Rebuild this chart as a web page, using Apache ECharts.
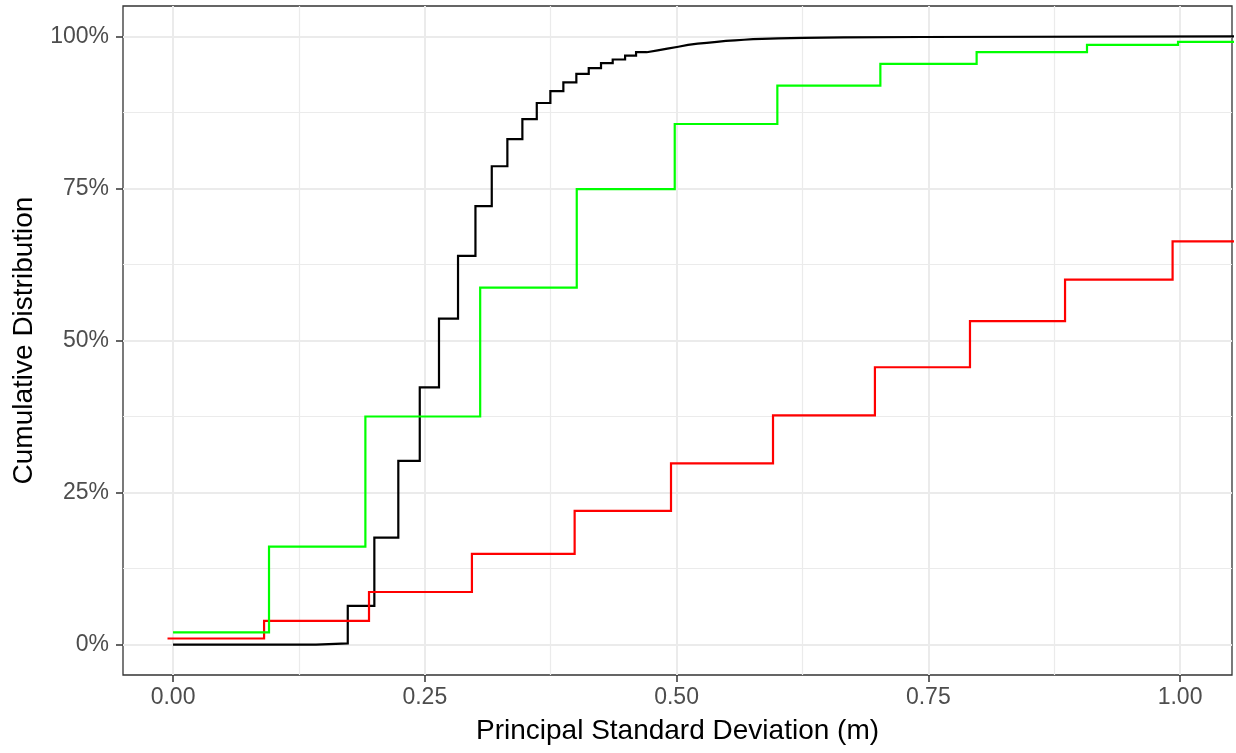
<!DOCTYPE html>
<html>
<head>
<meta charset="utf-8">
<script src="https://cdn.jsdelivr.net/npm/echarts@6/dist/echarts.min.js"></script>
<style>
html,body{margin:0;padding:0;background:#fff;}
#chart{width:1236px;height:753px;}
</style>
</head>
<body>
<div id="chart"></div>
<script>
// Step (ECDF) series: x where each step starts, y = cumulative % from that x onward
const blackX = [0, 0.142, 0.1735, 0.1999, 0.2237, 0.245, 0.2641, 0.283, 0.3003, 0.3165, 0.332, 0.3469, 0.3612, 0.3747, 0.3876, 0.4005, 0.4128, 0.425, 0.4366, 0.4489, 0.4598, 0.4704, 0.4813, 0.4909, 0.5018, 0.5114, 0.521, 0.530, 0.540, 0.549, 0.558, 0.567, 0.576, 0.585, 0.601, 0.626, 0.666, 0.7435, 1.06];
const blackY = [0, 0.2, 6.35, 17.6, 30.2, 42.3, 53.6, 63.9, 72.1, 78.65, 83.1, 86.4, 89.05, 91.0, 92.45, 93.85, 94.8, 95.6, 96.2, 96.85, 97.4, 97.7, 98.0, 98.3, 98.6, 98.8, 98.95, 99.1, 99.25, 99.35, 99.45, 99.55, 99.6, 99.68, 99.75, 99.83, 99.9, 100, 100];

const greenX = [0, 0.0953, 0.191, 0.305, 0.4009, 0.4982, 0.6001, 0.7024, 0.798, 0.9076, 0.998, 1.06];
const greenY = [2.0, 16.1, 37.5, 58.7, 74.9, 85.6, 91.9, 95.5, 97.4, 98.6, 99.1, 99.1];

const redX = [-0.0055, 0.0904, 0.1946, 0.2968, 0.3988, 0.4945, 0.5958, 0.697, 0.7914, 0.8858, 0.9926, 1.06];
const redY = [1.0, 3.9, 8.65, 14.9, 22.0, 29.8, 37.7, 45.6, 53.2, 60.0, 66.3, 66.3];

const xMajorTicks = [0, 0.25, 0.5, 0.75, 1.0];
const xMinorTicks = [0.125, 0.375, 0.625, 0.875];
const yMajorTicks = [0, 25, 50, 75, 100];
const yMinorTicks = [12.5, 37.5, 62.5, 87.5];

const xTitle = 'Principal Standard Deviation (m)';
const yTitle = 'Cumulative Distribution';

function pairs(xs, ys) { return xs.map((x, i) => [x, ys[i]]); }

const FONT = '"Liberation Sans", Arial, sans-serif';
const xMin = -0.0497, xMax = 1.0516, yMin = -5, yMax = 105;

const chart = echarts.init(document.getElementById('chart'), null, {renderer: 'canvas'});
const option = {
  animation: false,
  backgroundColor: '#ffffff',
  grid: {left: 123, right: 4, top: 6, bottom: 78, show: true, borderColor: '#333333', borderWidth: 1.3, backgroundColor: 'transparent', containLabel: false, outerBoundsMode: 'none'},
  xAxis: [
    {
      type: 'value', min: xMin, max: xMax, position: 'bottom',
      name: xTitle, nameLocation: 'middle', nameGap: 42,
      nameTextStyle: {color: '#000000', fontSize: 28, fontFamily: FONT},
      axisLine: {show: false, onZero: false},
      axisTick: {show: true, customValues: xMajorTicks, length: 7, lineStyle: {color: '#333333', width: 1.5}},
      axisLabel: {customValues: xMajorTicks, color: '#4D4D4D', fontSize: 23, fontFamily: FONT, margin: 11,
        formatter: v => v.toFixed(2)},
      splitLine: {show: true, lineStyle: {color: '#EBEBEB', width: 2}}
    },
    {
      type: 'value', min: xMin, max: xMax, position: 'bottom',
      axisLine: {show: false, onZero: false}, axisLabel: {show: false},
      axisTick: {show: false, customValues: xMinorTicks},
      splitLine: {show: true, lineStyle: {color: '#EBEBEB', width: 1.2}}
    }
  ],
  yAxis: [
    {
      type: 'value', min: yMin, max: yMax, position: 'left',
      name: yTitle, nameLocation: 'middle', nameGap: 85, nameRotate: 90,
      nameTextStyle: {color: '#000000', fontSize: 28, fontFamily: FONT},
      axisLine: {show: false, onZero: false},
      axisTick: {show: true, customValues: yMajorTicks, length: 7, lineStyle: {color: '#333333', width: 1.5}},
      axisLabel: {customValues: yMajorTicks, color: '#4D4D4D', fontSize: 23, fontFamily: FONT, margin: 14,
        formatter: v => v + '%'},
      splitLine: {show: true, lineStyle: {color: '#EBEBEB', width: 2}}
    },
    {
      type: 'value', min: yMin, max: yMax, position: 'left',
      axisLine: {show: false, onZero: false}, axisLabel: {show: false},
      axisTick: {show: false, customValues: yMinorTicks},
      splitLine: {show: true, lineStyle: {color: '#EBEBEB', width: 1.2}}
    }
  ],
  series: [
    {type: 'line', name: 'black', step: 'end', data: pairs(blackX, blackY), showSymbol: false, symbol: 'none',
      clip: true, z: 2, lineStyle: {color: '#000000', width: 2.2, join: 'miter'}},
    {type: 'line', name: 'red', step: 'end', data: pairs(redX, redY), showSymbol: false, symbol: 'none',
      clip: true, z: 3, lineStyle: {color: '#FF0000', width: 2.2, join: 'miter'}},
    {type: 'line', name: 'green', step: 'end', data: pairs(greenX, greenY), showSymbol: false, symbol: 'none',
      clip: true, z: 4, lineStyle: {color: '#00FF00', width: 2.2, join: 'miter'}}
  ]
};
chart.setOption(option);
</script>
</body>
</html>
